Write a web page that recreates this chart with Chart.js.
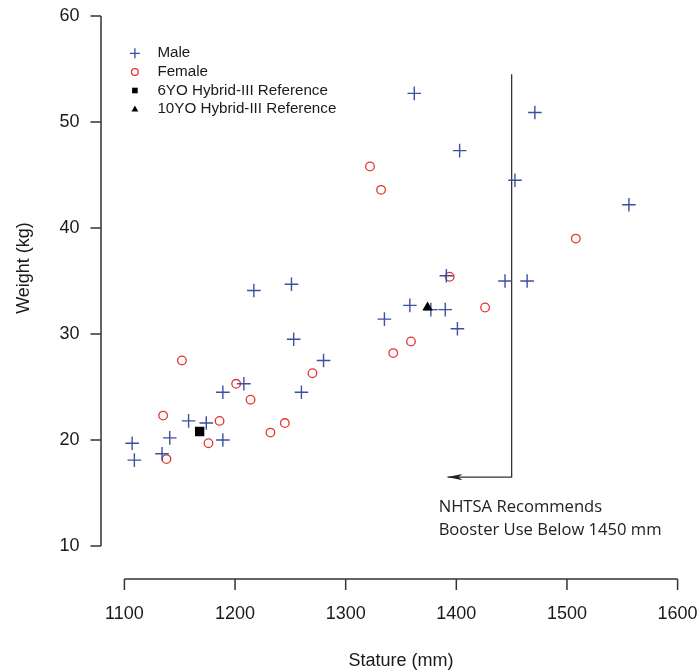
<!DOCTYPE html>
<html>
<head>
<meta charset="utf-8">
<script src="https://cdn.jsdelivr.net/npm/chart.js@4.4.0/dist/chart.umd.min.js"></script>
<style>
  html, body { margin: 0; padding: 0; background: #fff; }
  #wrap { width: 700px; height: 670px; }
</style>
</head>
<body>
<div id="wrap"><canvas id="chart" width="700" height="670"></canvas></div>
<script>
// stature (mm) / weight (kg)
const MALE_STATURE = [1107, 1109, 1134, 1141, 1158, 1174, 1189, 1189, 1208, 1217, 1251, 1253, 1260, 1280,
                      1335, 1358, 1377, 1390, 1391, 1401, 1362, 1403, 1444, 1453, 1464, 1471, 1556];
const MALE_WEIGHT  = [19.7, 18.1, 18.7, 20.2, 21.8, 21.6, 24.5, 20.0, 25.3, 34.1, 34.7, 29.5, 24.5, 27.5,
                      31.4, 32.7, 32.3, 32.3, 35.5, 30.5, 52.7, 47.3, 35.0, 44.5, 35.0, 50.9, 42.2];

const FEMALE_STATURE = [1135, 1138, 1152, 1176, 1186, 1201, 1214, 1232, 1245, 1270, 1322, 1332, 1343, 1359,
                        1394, 1426, 1508];
const FEMALE_WEIGHT  = [22.3, 18.2, 27.5, 19.7, 21.8, 25.3, 23.8, 20.7, 21.6, 26.3, 45.8, 43.6, 28.2, 29.3,
                        35.4, 32.5, 39.0];

const HYBRID6_STATURE = [1168];
const HYBRID6_WEIGHT = [20.8];
const HYBRID10_STATURE = [1374];
const HYBRID10_WEIGHT = [32.5];

// NHTSA guide line: drop from top at 1450 mm, then arrow to the left
const GUIDE_X = [1450, 1450, 1392];
const GUIDE_Y = [54.5, 16.5, 16.5];
const NOTE_LINES = ['NHTSA Recommends', 'Booster Use Below 1450 mm'];

const X_TICKS = [1100, 1200, 1300, 1400, 1500, 1600];
const Y_TICKS = [10, 20, 30, 40, 50, 60];

const LEGEND_LABELS = ['Male', 'Female', '6YO Hybrid-III Reference', '10YO Hybrid-III Reference'];

const BLUE = '#3b50a0';
const RED = '#e5352e';
const INK = '#1a1a1a';
const AXIS_COLOR = '#333';
const FONT = '"Liberation Sans", Arial, Helvetica, sans-serif';

const toPoints = (xs, ys) => xs.map((v, i) => ({x: v, y: ys[i]}));

// R-style detached axes, y title, legend and note
const rDecor = {
    id: 'rDecor',
    afterDraw(chart) {
        const {ctx, chartArea, scales: {x, y}} = chart;
        ctx.save();
        ctx.strokeStyle = AXIS_COLOR;
        ctx.lineWidth = 1.5;

        // y axis
        const ax = chartArea.left - 23.4;
        ctx.beginPath();
        ctx.moveTo(ax, y.getPixelForValue(Y_TICKS[0]));
        ctx.lineTo(ax, y.getPixelForValue(Y_TICKS[Y_TICKS.length - 1]));
        Y_TICKS.forEach(t => {
            const py = y.getPixelForValue(t);
            ctx.moveTo(ax, py);
            ctx.lineTo(ax - 10.5, py);
        });
        ctx.stroke();

        // x axis
        const ay = chartArea.bottom + 33;
        ctx.beginPath();
        ctx.moveTo(x.getPixelForValue(X_TICKS[0]), ay);
        ctx.lineTo(x.getPixelForValue(X_TICKS[X_TICKS.length - 1]), ay);
        X_TICKS.forEach(t => {
            const px = x.getPixelForValue(t);
            ctx.moveTo(px, ay);
            ctx.lineTo(px, ay + 11);
        });
        ctx.stroke();

        // y title
        ctx.fillStyle = INK;
        ctx.font = '18px ' + FONT;
        ctx.textAlign = 'center';
        ctx.textBaseline = 'middle';
        ctx.translate(24, 268);
        ctx.rotate(-Math.PI / 2);
        ctx.fillText('Weight (kg)', 0, 0);
        ctx.setTransform(1, 0, 0, 1, 0, 0);

        // arrow head
        const tipX = x.getPixelForValue(GUIDE_X[2]);
        const tipY = y.getPixelForValue(GUIDE_Y[2]);
        ctx.fillStyle = '#222';
        ctx.beginPath();
        ctx.moveTo(tipX, tipY);
        ctx.lineTo(tipX + 15, tipY - 3.2);
        ctx.lineTo(tipX + 11, tipY);
        ctx.lineTo(tipX + 15, tipY + 3.2);
        ctx.closePath();
        ctx.fill();

        // note
        ctx.fillStyle = '#222';
        ctx.font = '16.6px "Open Sans", sans-serif';
        ctx.textAlign = 'left';
        ctx.textBaseline = 'middle';
        const noteX = x.getPixelForValue(GUIDE_X[0]) - 73;
        NOTE_LINES.forEach((s, i) => ctx.fillText(s, noteX, y.getPixelForValue(GUIDE_Y[1]) + 30.5 + i * 22.6));

        // legend
        const lx = chartArea.left + 10.5;
        const tx = chartArea.left + 33;
        const rows = [53.3, 72, 90.5, 109];
        ctx.font = '15.2px ' + FONT;
        ctx.lineWidth = 1.3;
        LEGEND_LABELS.forEach((label, i) => {
            const ry = rows[i];
            ctx.beginPath();
            if (i === 0) {
                ctx.strokeStyle = BLUE;
                ctx.moveTo(lx - 5, ry); ctx.lineTo(lx + 5, ry);
                ctx.moveTo(lx, ry - 5); ctx.lineTo(lx, ry + 5);
                ctx.stroke();
            } else if (i === 1) {
                ctx.strokeStyle = RED;
                ctx.arc(lx, ry, 3.4, 0, Math.PI * 2);
                ctx.stroke();
            } else if (i === 2) {
                ctx.fillStyle = '#000';
                ctx.fillRect(lx - 2.8, ry - 2.8, 5.6, 5.6);
            } else {
                ctx.fillStyle = '#000';
                ctx.moveTo(lx, ry - 3.6);
                ctx.lineTo(lx + 3.4, ry + 2.4);
                ctx.lineTo(lx - 3.4, ry + 2.4);
                ctx.closePath();
                ctx.fill();
            }
            ctx.fillStyle = INK;
            ctx.fillText(label, tx, ry);
        });
        ctx.restore();
    }
};

const chartData = {
    datasets: [
        {
            label: LEGEND_LABELS[3],
            data: toPoints(HYBRID10_STATURE, HYBRID10_WEIGHT),
            pointStyle: 'triangle',
            pointRadius: 6,
            backgroundColor: '#000',
            borderColor: '#000',
            borderWidth: 0
        },
        {
            label: LEGEND_LABELS[2],
            data: toPoints(HYBRID6_STATURE, HYBRID6_WEIGHT),
            pointStyle: 'rect',
            pointRadius: 6.6,
            backgroundColor: '#000',
            borderColor: '#000',
            borderWidth: 0
        },
        {
            label: LEGEND_LABELS[0],
            data: toPoints(MALE_STATURE, MALE_WEIGHT),
            pointStyle: 'cross',
            pointRadius: 6.8,
            borderColor: BLUE,
            borderWidth: 1.4
        },
        {
            label: LEGEND_LABELS[1],
            data: toPoints(FEMALE_STATURE, FEMALE_WEIGHT),
            pointStyle: 'circle',
            pointRadius: 4.3,
            backgroundColor: 'rgba(0,0,0,0)',
            borderColor: RED,
            borderWidth: 1.3
        },
        {
            label: 'guide',
            data: toPoints(GUIDE_X, GUIDE_Y),
            showLine: true,
            pointRadius: 0,
            borderColor: '#333',
            borderWidth: 1.3,
            fill: false
        }
    ]
};

const chartConfig = {
    type: 'scatter',
    data: chartData,
    options: {
        responsive: false,
        devicePixelRatio: 1,
        animation: false,
        layout: {
            padding: {top: 16, right: 22.4, left: 0, bottom: 0}
        },
        plugins: {
            legend: {display: false},
            tooltip: {enabled: false}
        },
        scales: {
            x: {
                type: 'linear',
                min: 1100,
                max: 1600,
                afterFit: s => {
                    s.height = 124;
                    s.paddingLeft = 0;
                    s.paddingRight = 0;
                },
                afterBuildTicks: s => { s.ticks = X_TICKS.map(v => ({value: v})); },
                grid: {display: false, drawTicks: false},
                border: {display: false},
                ticks: {
                    padding: 57,
                    color: INK,
                    font: {family: FONT, size: 18},
                    maxRotation: 0,
                    callback: v => String(v)
                },
                title: {
                    display: true,
                    text: 'Stature (mm)',
                    color: INK,
                    font: {family: FONT, size: 18, lineHeight: 1},
                    padding: {top: 0, bottom: 0}
                }
            },
            y: {
                type: 'linear',
                min: 10,
                max: 60,
                afterFit: s => {
                    s.width = 124.4;
                    s.paddingTop = 0;
                    s.paddingBottom = 0;
                },
                afterBuildTicks: s => { s.ticks = Y_TICKS.map(v => ({value: v})); },
                grid: {display: false, drawTicks: false},
                border: {display: false},
                ticks: {
                    padding: 45,
                    color: INK,
                    font: {family: FONT, size: 18},
                    callback: v => String(v)
                }
            }
        }
    },
    plugins: [rDecor]
};

const statureChart = new Chart(document.getElementById('chart'), chartConfig);
</script>
</body>
</html>
